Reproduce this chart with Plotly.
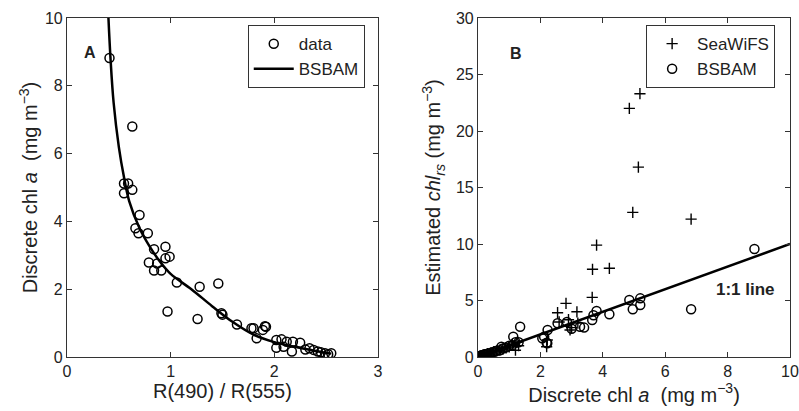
import plotly.graph_objects as go

# ---------------- Panel A data ----------------
ratio_obs = [0.41, 0.63, 0.55, 0.59, 0.55, 0.63, 0.70, 0.66, 0.69, 0.78, 0.84, 0.95, 0.95, 0.99,
             0.79, 0.87, 0.84, 0.91, 1.06, 1.28, 1.46, 0.97, 1.26, 1.49, 1.50, 1.64, 1.78, 1.83,
             1.89, 1.92, 2.02, 1.80, 1.91, 2.02, 2.07, 2.12, 2.18, 2.25, 2.17, 2.34, 2.38,
             2.42, 2.49, 2.55, 2.09, 2.30, 2.45, 2.52]
chl_obs = [8.82, 6.80, 5.12, 5.12, 4.83, 4.93, 4.19, 3.80, 3.65, 3.65, 3.18, 3.25, 2.91, 2.96,
           2.79, 2.76, 2.55, 2.55, 2.20, 2.07, 2.17, 1.34, 1.12, 1.29, 1.25, 0.96, 0.85, 0.55,
           0.80, 0.89, 0.27, 0.85, 0.91, 0.50, 0.52, 0.45, 0.45, 0.42, 0.16, 0.26, 0.21,
           0.16, 0.11, 0.11, 0.30, 0.22, 0.14, 0.08]

ratio_fit = [0.40, 0.42, 0.45, 0.50, 0.55, 0.60, 0.70, 0.80, 0.90, 1.00, 1.20, 1.40, 1.60,
             1.80, 2.00, 2.20, 2.40, 2.55]
chl_fit = [10.0, 8.8, 7.5, 6.2, 5.3, 4.6, 3.8, 3.25, 2.8, 2.45, 2.0, 1.5, 1.03,
           0.66, 0.44, 0.30, 0.18, 0.10]

# ---------------- Panel B data ----------------
disc_sea = [5.19, 4.85, 5.14, 4.96, 6.83, 3.80, 3.67, 4.21, 3.66, 2.82, 2.55, 3.17, 2.95, 3.00,
            2.20, 2.22, 1.30, 1.20, 1.10, 1.00, 0.90, 0.80, 0.70, 0.60, 0.50, 0.40, 0.30,
            0.20, 0.15, 0.10, 0.05, 1.25, 2.60, 2.90, 3.20]
est_sea = [23.3, 22.0, 16.8, 12.8, 12.2, 9.9, 7.76, 7.85, 5.28, 4.75, 3.92, 4.00, 2.39, 2.60,
           0.91, 1.50, 1.00, 0.60, 1.10, 0.90, 0.80, 0.70, 0.60, 0.55, 0.45, 0.35, 0.30,
           0.20, 0.15, 0.10, 0.05, 1.30, 3.10, 3.30, 3.00]

disc_bsb = [8.86, 6.83, 4.85, 5.20, 4.96, 5.20, 4.21, 3.80, 3.66, 3.70, 2.55, 2.85, 3.27, 3.00,
            2.23, 2.06, 2.20, 1.35, 1.13, 1.30, 1.20, 1.10, 1.00, 0.90, 0.80, 0.75, 0.70,
            0.60, 0.55, 0.50, 0.45, 0.40, 0.35, 0.30, 0.25, 0.22, 0.20, 0.18, 0.15, 0.12,
            0.10, 0.08, 0.05, 2.12, 2.22, 3.40]
est_bsb = [9.56, 4.22, 5.04, 5.19, 4.22, 4.60, 3.78, 4.07, 3.27, 3.70, 2.98, 3.10, 2.68, 2.50,
           2.39, 1.65, 1.27, 2.68, 1.80, 1.30, 1.30, 1.05, 1.00, 0.85, 0.75, 0.90, 0.60,
           0.55, 0.50, 0.45, 0.40, 0.35, 0.30, 0.28, 0.22, 0.25, 0.18, 0.20, 0.12, 0.15,
           0.08, 0.10, 0.05, 1.80, 1.21, 2.60]

one_to_one = [0, 10]

xticks_a = [0, 1, 2, 3]
yticks_a = [0, 2, 4, 6, 8, 10]
xticks_b = [0, 2, 4, 6, 8, 10]
yticks_b = [0, 5, 10, 15, 20, 25, 30]

FONT = "Liberation Sans, Arial, Helvetica, sans-serif"
AX = "#333333"

fig = go.Figure()

fig.add_trace(go.Scatter(x=ratio_obs, y=chl_obs, mode="markers", name="data",
                         marker=dict(symbol="circle-open", size=9, color="black",
                                     line=dict(width=1.5, color="black")),
                         xaxis="x", yaxis="y", legend="legend"))
fig.add_trace(go.Scatter(x=ratio_fit, y=chl_fit, mode="lines", name="BSBAM",
                         line=dict(color="black", width=2.5, shape="spline"),
                         xaxis="x", yaxis="y", legend="legend"))

fig.add_trace(go.Scatter(x=one_to_one, y=one_to_one, mode="lines", showlegend=False,
                         line=dict(color="black", width=2.5),
                         xaxis="x2", yaxis="y2"))
fig.add_trace(go.Scatter(x=disc_sea, y=est_sea, mode="markers", name="SeaWiFS",
                         marker=dict(symbol="cross-thin-open", size=8, color="black",
                                     line=dict(width=1.4, color="black")),
                         xaxis="x2", yaxis="y2", legend="legend2"))
fig.add_trace(go.Scatter(x=disc_bsb, y=est_bsb, mode="markers", name="BSBAM",
                         marker=dict(symbol="circle-open", size=9, color="black",
                                     line=dict(width=1.5, color="black")),
                         xaxis="x2", yaxis="y2", legend="legend2"))

axis_common = dict(showline=True, linecolor=AX, linewidth=1.2, mirror="ticks",
                   ticks="inside", ticklen=5, tickcolor=AX, showgrid=False, zeroline=False,
                   automargin=False,
                   tickfont=dict(family=FONT, size=16, color="#222"),
                   title_font=dict(family=FONT, size=20, color="#222"))

da = [0, 0.430]
db = [0.5685, 1.0]

fig.update_layout(
    width=799, height=411,
    margin=dict(l=67, r=9, t=18, b=54, autoexpand=False),
    paper_bgcolor="white", plot_bgcolor="white",
    font=dict(family=FONT, color="#222"),
    xaxis=dict(domain=da, range=[0, 3], tickvals=xticks_a, anchor="y",
               title=dict(text="R(490) / R(555)", standoff=2), **axis_common),
    yaxis=dict(domain=[0, 1], range=[0, 10], tickvals=yticks_a, anchor="x",
               title=dict(text="Discrete chl <i>a</i>  (mg m<sup>−3</sup>)", standoff=1),
               **axis_common),
    xaxis2=dict(domain=db, range=[0, 10], tickvals=xticks_b, anchor="y2",
                title=dict(text="Discrete chl <i>a</i>  (mg m<sup>−3</sup>)", standoff=2),
                **axis_common),
    yaxis2=dict(domain=[0, 1], range=[0, 30], tickvals=yticks_b, anchor="x2",
                title=dict(text="Estimated <i>chl<sub>rs</sub></i> (mg m<sup>−3</sup>)", standoff=9),
                **axis_common),
    legend=dict(x=0.250, y=0.979, xanchor="left", yanchor="top",
                bordercolor=AX, borderwidth=1, bgcolor="white", itemwidth=40,
                font=dict(family=FONT, size=17, color="#222"), tracegroupgap=0),
    legend2=dict(x=0.801, y=0.979, xanchor="left", yanchor="top",
                 bordercolor=AX, borderwidth=1, bgcolor="white", itemwidth=40,
                 font=dict(family=FONT, size=17, color="#222"), tracegroupgap=0),
    annotations=[
        dict(text="<b>A</b>", x=0.22, y=8.97, xref="x", yref="y", showarrow=False,
             font=dict(family=FONT, size=16, color="#222")),
        dict(text="<b>B</b>", x=1.22, y=26.9, xref="x2", yref="y2", showarrow=False,
             font=dict(family=FONT, size=16, color="#222")),
        dict(text="<b>1:1 line</b>", x=8.56, y=5.93, xref="x2", yref="y2", showarrow=False,
             font=dict(family=FONT, size=17, color="#222")),
    ],
)

fig.write_html("out.html", config={"displayModeBar": False},
               post_script="document.body.style.margin='0';document.body.style.overflow='hidden';")
